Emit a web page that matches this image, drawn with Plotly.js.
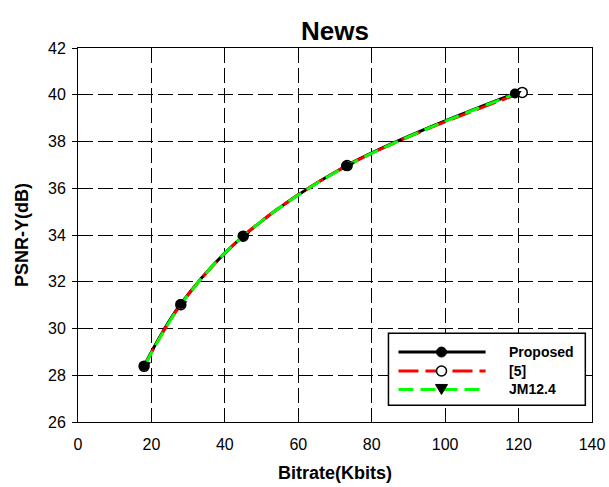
<!DOCTYPE html>
<html>
<head>
<meta charset="utf-8">
<script src="https://cdn.plot.ly/plotly-3.0.1.min.js"></script>
<style>html,body{margin:0;padding:0;background:#fff;}#chart{width:609px;height:487px;}</style>
</head>
<body>
<div id="chart"></div>
<script>
// Data
const seriesNames = ["Proposed", "[5]", "JM12.4"];
const proposedX = [18, 28, 45, 73, 119];
const proposedY = [28.4, 31.05, 33.95, 36.95, 40.05];
const ref5X = [18, 28, 45, 73.3, 121];
const ref5Y = [28.38, 31.02, 33.95, 36.97, 40.1];
const jmX = [18.3, 28.2, 45.2, 73.8, 119.3];
const jmY = [28.45, 31.06, 33.98, 37.0, 40.05];
const xTicks = [0, 20, 40, 60, 80, 100, 120, 140];
const yTicks = [26, 28, 30, 32, 34, 36, 38, 40, 42];

const FONT = "Liberation Sans, Arial, sans-serif";

const traces = [
  {x: proposedX, y: proposedY, mode: "lines", name: seriesNames[0],
   line: {color: "#000", width: 3, shape: "spline"}, showlegend: false},
  {x: ref5X, y: ref5Y, mode: "lines+markers", name: seriesNames[1],
   line: {color: "#ff0000", width: 3, dash: "20px,7px", shape: "spline"},
   marker: {symbol: "circle", size: 10, color: "#fff", line: {color: "#000", width: 1.5}},
   showlegend: false},
  {x: jmX, y: jmY, mode: "lines+markers", name: seriesNames[2],
   line: {color: "#00ff00", width: 3, dash: "15px,7px", shape: "spline"},
   marker: {symbol: "triangle-down", size: 10, color: "#000"},
   showlegend: false},
  {x: proposedX, y: proposedY, mode: "markers", name: seriesNames[0],
   marker: {symbol: "circle", size: 10, color: "#000"}, showlegend: false}
];

// Hand-drawn legend (paper coordinates)
const lgX0 = 0.604, lgX1 = 0.987, lgY0 = 0.045, lgY1 = 0.237;
const rows = [0.187, 0.1365, 0.087];
const sx0 = 0.6235, sx1 = 0.793, mx = 0.7072, tx = 0.835;
const shapes = [
  {type: "rect", xref: "paper", yref: "paper", x0: lgX0, x1: lgX1, y0: lgY0, y1: lgY1,
   fillcolor: "#fff", line: {color: "#000", width: 1.5}, layer: "above"},
  {type: "line", xref: "paper", yref: "paper", x0: sx0, x1: sx1, y0: rows[0], y1: rows[0],
   line: {color: "#000", width: 3}},
  {type: "line", xref: "paper", yref: "paper", x0: sx0, x1: sx1, y0: rows[1], y1: rows[1],
   line: {color: "#ff0000", width: 3, dash: "20px,7px"}},
  {type: "line", xref: "paper", yref: "paper", x0: sx0, x1: sx1, y0: rows[2], y1: rows[2],
   line: {color: "#00ff00", width: 3, dash: "15px,7px"}},
  {type: "circle", xref: "paper", yref: "paper", xsizemode: "pixel", ysizemode: "pixel",
   xanchor: mx, yanchor: rows[0], x0: -5, x1: 5, y0: -5, y1: 5,
   fillcolor: "#000", line: {color: "#000", width: 1}},
  {type: "circle", xref: "paper", yref: "paper", xsizemode: "pixel", ysizemode: "pixel",
   xanchor: mx, yanchor: rows[1], x0: -5, x1: 5, y0: -5, y1: 5,
   fillcolor: "#fff", line: {color: "#000", width: 1.5}},
  {type: "path", xref: "paper", yref: "paper", xsizemode: "pixel", ysizemode: "pixel",
   xanchor: mx, yanchor: rows[2], path: "M-6,5 L6,5 L0,-5 Z",
   fillcolor: "#000", line: {color: "#000", width: 1}}
];
const annotations = seriesNames.map((n, i) => ({
  xref: "paper", yref: "paper", x: tx, y: rows[i], xanchor: "left", yanchor: "middle",
  text: "<b>" + n + "</b>", showarrow: false, font: {family: FONT, size: 14, color: "#000"}
}));

const layout = {
  width: 609, height: 487,
  margin: {l: 78, r: 17, t: 48, b: 65},
  paper_bgcolor: "#fff", plot_bgcolor: "#fff",
  font: {family: FONT, color: "#000"},
  title: {text: "<b>News</b>", font: {family: FONT, size: 26, color: "#000"},
          x: 0.5, xref: "paper", y: 1 - 31 / 487, yanchor: "middle"},
  showlegend: false,
  xaxis: {
    range: [0, 140], tickvals: xTicks, ticktext: xTicks.map(String),
    ticks: "inside", ticklen: 5, tickcolor: "#000", tickwidth: 1,
    ticklabelstandoff: 8,
    showline: true, linecolor: "#000", linewidth: 1, mirror: true,
    showgrid: true, gridcolor: "#000", gridwidth: 1, griddash: "15px,5px",
    zeroline: false, tickfont: {family: FONT, size: 16, color: "#000"},
    title: {text: "<b>Bitrate(Kbits)</b>", font: {family: FONT, size: 18, color: "#000"}, standoff: 14},
    automargin: false
  },
  yaxis: {
    range: [26, 42], tickvals: yTicks, ticktext: yTicks.map(String),
    ticks: "outside", ticklen: 5, tickcolor: "#000", tickwidth: 1,
    ticklabelstandoff: 3,
    showline: true, linecolor: "#000", linewidth: 1, mirror: true,
    showgrid: true, gridcolor: "#000", gridwidth: 1, griddash: "15px,5px",
    zeroline: false, tickfont: {family: FONT, size: 16, color: "#000"},
    title: {text: "<b>PSNR-Y(dB)</b>", font: {family: FONT, size: 18, color: "#000"}, standoff: 14},
    automargin: false
  },
  shapes: shapes,
  annotations: annotations
};

Plotly.newPlot("chart", traces, layout, {staticPlot: true, displayModeBar: false});
</script>
</body>
</html>
